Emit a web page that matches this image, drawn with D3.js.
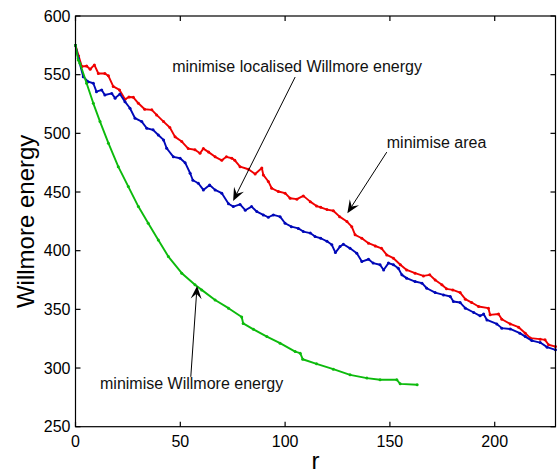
<!DOCTYPE html>
<html>
<head>
<meta charset="utf-8">
<script src="https://cdn.jsdelivr.net/npm/d3@7"></script>
<style>
  html, body { margin: 0; padding: 0; background: #fff; }
  svg { display: block; font-family: "Liberation Sans", Arial, Helvetica, sans-serif; }
</style>
</head>
<body>
<svg width="557" height="475"></svg>
<script>
const width = 557;
const height = 475;
const margin = {left: 75.5, right: 1.5, top: 16, bottom: 48.3};

const xTicks = [0, 50, 100, 150, 200];
const yTicks = [250, 300, 350, 400, 450, 500, 550, 600];

// minimise area
const areaR = [0, 1.5, 3, 5.3, 7, 9, 10.9, 14, 15.7, 18, 21, 23.6, 25.5, 27.6, 30, 33, 36.4, 38.7, 42, 45, 47.5, 50.7, 53.8, 57, 59.4, 61, 63.5, 66.6, 69.8, 72, 74.6, 76, 78.5, 82.5, 85.7, 88.9, 89.6, 92, 93.6, 96.8, 100, 102.4, 105.6, 108.7, 112, 115, 117, 120, 123, 126, 129.5, 131.8, 133.4, 136.6, 139.8, 143, 146, 148.5, 151.7, 155, 158, 162, 166, 169, 171.6, 174.8, 177, 180, 183.5, 186, 189, 192.3, 197, 197.8, 201.8, 203.4, 207.4, 211.4, 214.6, 217, 221.7, 224, 225.7, 229];
const areaE = [575, 566, 557, 557.4, 554.6, 558.3, 551, 551, 549, 540, 537, 529, 531, 530.7, 525.6, 520.5, 520, 515.7, 510, 505, 497, 493, 487, 486, 483, 487, 484, 480, 477, 480, 478.8, 477, 471.6, 469.4, 465.4, 470.5, 464.6, 459, 453.2, 450.4, 449, 444.7, 443.9, 446.7, 441.8, 438, 437, 435, 434, 429, 424.8, 420.5, 413.5, 410.6, 406.4, 404, 402, 396.4, 393.6, 388, 383.6, 380.8, 378.5, 379.4, 375, 370.9, 367.5, 366.6, 364.3, 358.7, 355.8, 352.4, 351, 345.3, 346, 341.6, 337.6, 334.8, 329.7, 325.5, 324.6, 324, 319.8, 318.3];

// minimise localised Willmore energy
const locR = [0, 1.4, 3.7, 6, 8.5, 10, 12.5, 14, 17.3, 18.9, 21.2, 23.6, 26, 28.4, 31.6, 34, 37, 39.5, 42, 43.5, 46.7, 49.9, 52.3, 54.7, 56, 58.6, 61, 64, 66.6, 69.8, 73, 75.3, 78.5, 81, 84, 86.5, 89.6, 92, 94.4, 97.6, 100, 103, 106.3, 108.7, 112, 114.3, 117, 120, 122.3, 124, 126.2, 127.8, 131, 134.2, 136.6, 139.8, 142, 145.3, 147, 149.3, 151.7, 154, 155.7, 158, 162, 165.3, 167.6, 171.6, 175.6, 178.8, 180.3, 183.5, 186, 190, 193, 194.7, 196.3, 201, 203.4, 207.4, 212, 214.6, 217.7, 221.7, 225, 229];
const locE = [575, 564, 548.3, 544, 542.7, 535.5, 537, 532.7, 534, 530, 533.6, 527, 521.4, 512.9, 510, 504.3, 503, 498.6, 494.4, 487.3, 480, 478.8, 475, 466, 460, 457.5, 451.8, 456, 451.8, 449, 440, 437.6, 439.4, 434.5, 437.6, 433.3, 430.5, 428.5, 430.5, 429, 423.4, 420.5, 419, 416.3, 415, 412, 410.6, 408, 405, 398.4, 403.5, 405.5, 402, 397.9, 390.7, 392.7, 389.4, 388, 383.6, 389.4, 388, 385, 379.4, 376.6, 373.7, 372.3, 368, 364.3, 362.3, 361, 356.7, 355.8, 351, 347.3, 344.5, 346, 341, 337.6, 334, 333.3, 329.7, 326.8, 323.4, 321.7, 317.8, 315.5];

// minimise Willmore energy
const willR = [0, 1.3, 2.1, 5.3, 8.5, 11.7, 15.7, 20.4, 25.2, 30, 34.7, 39.5, 44.3, 50.7, 57, 60.2, 66.6, 73, 79.3, 80, 84.9, 91.3, 97.6, 104.8, 107.2, 108.4, 115, 123, 131, 139, 145.3, 153.3, 154.9, 163];
const willE = [575, 562.5, 559.7, 542.7, 525.6, 510, 491.6, 471.6, 454.6, 437.6, 423.4, 409.2, 395, 380.8, 370.9, 366.6, 358, 351, 343.5, 338, 333, 326.8, 321.2, 314, 312.7, 307.5, 303.6, 299, 294.2, 291.4, 290, 290, 286.5, 285.7];

const series = [
    {r: areaR, e: areaE, color: "#f00000"},
    {r: locR, e: locE, color: "#0008b8"},
    {r: willR, e: willE, color: "#0cba0c"},
];

// text anchor (r, E), arrow start (r, E), arrow tip (r, E)
const notes = [
    {text: "minimise localised Willmore energy", tx: 46.1, ty: 552.3, x1: 104.8, y1: 548, x2: 75.2, y2: 442.4},
    {text: "minimise area", tx: 148.5, ty: 487.6, x1: 148.5, y1: 484, x2: 129.7, y2: 432},
    {text: "minimise Willmore energy", tx: 11.7, ty: 282.3, x1: 55, y1: 292.5, x2: 58, y2: 370},
];

const svg = d3.select("svg");

const x = d3.scaleLinear().domain([0, 229]).range([margin.left, width - margin.right]);
const y = d3.scaleLinear().domain([250, 600]).range([height - margin.bottom, margin.top]);

const plot = svg.append("g");

const line = d3.line().x(d => x(d[0])).y(d => y(d[1]));

series.forEach(s => {
    const pts = s.r.map((r, i) => [r, s.e[i]]);
    plot.append("path")
        .datum(pts)
        .attr("d", line)
        .attr("fill", "none")
        .attr("stroke", s.color)
        .attr("stroke-width", 1.9)
        .attr("stroke-linejoin", "round");
    plot.selectAll(null)
        .data(pts)
        .enter()
        .append("circle")
        .attr("cx", d => x(d[0]))
        .attr("cy", d => y(d[1]))
        .attr("r", 1.5)
        .attr("fill", s.color);
});

// box with inward ticks on all sides
const x0 = x.range()[0], x1 = x.range()[1];
const y0 = y.range()[0], y1 = y.range()[1];
const tickLen = 5;

const axes = svg.append("g").attr("stroke", "#000").attr("stroke-width", 1.2);

axes.append("rect")
    .attr("x", x0).attr("y", y1)
    .attr("width", x1 - x0).attr("height", y0 - y1)
    .attr("fill", "none");

xTicks.forEach(t => {
    axes.append("line").attr("x1", x(t)).attr("x2", x(t)).attr("y1", y0).attr("y2", y0 - tickLen);
    axes.append("line").attr("x1", x(t)).attr("x2", x(t)).attr("y1", y1).attr("y2", y1 + tickLen);
});
yTicks.forEach(t => {
    axes.append("line").attr("x1", x0).attr("x2", x0 + tickLen).attr("y1", y(t)).attr("y2", y(t));
    axes.append("line").attr("x1", x1).attr("x2", x1 - tickLen).attr("y1", y(t)).attr("y2", y(t));
});

svg.append("g")
    .selectAll("text")
    .data(xTicks)
    .enter()
    .append("text")
    .attr("x", d => x(d))
    .attr("y", y0 + 20)
    .attr("text-anchor", "middle")
    .attr("font-size", 16)
    .text(d => d);

svg.append("g")
    .selectAll("text")
    .data(yTicks)
    .enter()
    .append("text")
    .attr("x", x0 - 5)
    .attr("y", d => y(d) + 5.5)
    .attr("text-anchor", "end")
    .attr("font-size", 16)
    .text(d => d);

svg.append("text")
    .attr("x", (x0 + x1) / 2)
    .attr("y", 469)
    .attr("text-anchor", "middle")
    .attr("font-size", 24)
    .text("r");

svg.append("text")
    .attr("transform", `translate(34, ${(y0 + y1) / 2}) rotate(-90)`)
    .attr("text-anchor", "middle")
    .attr("font-size", 24)
    .text("Willmore energy");

// annotations
const ann = svg.append("g");

notes.forEach(n => {
    ann.append("text")
        .attr("x", x(n.tx))
        .attr("y", y(n.ty))
        .attr("font-size", 16)
        .attr("fill", "#111")
        .text(n.text);

    const ax = x(n.x1), ay = y(n.y1), bx = x(n.x2), by = y(n.y2);
    const ang = Math.atan2(by - ay, bx - ax);
    const L = 13, W = 5.5, notch = 8;
    const ux = Math.cos(ang), uy = Math.sin(ang);
    const px = -uy, py = ux;

    ann.append("line")
        .attr("x1", ax).attr("y1", ay)
        .attr("x2", bx - ux * notch).attr("y2", by - uy * notch)
        .attr("stroke", "#000")
        .attr("stroke-width", 1);

    const head = [
        [bx, by],
        [bx - ux * L + px * W, by - uy * L + py * W],
        [bx - ux * notch, by - uy * notch],
        [bx - ux * L - px * W, by - uy * L - py * W],
    ];
    ann.append("path")
        .attr("d", "M" + head.map(p => p.join(",")).join("L") + "Z")
        .attr("fill", "#000");
});
</script>
</body>
</html>
